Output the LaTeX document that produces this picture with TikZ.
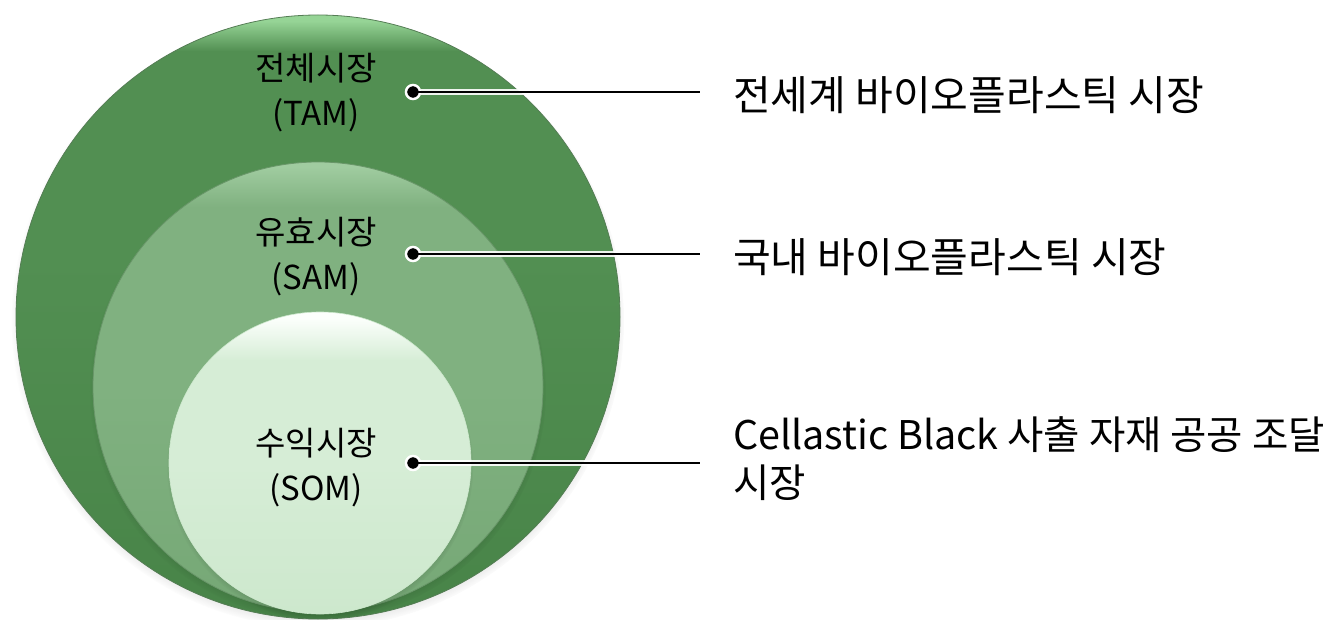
\documentclass[tikz,border=0pt]{standalone}
\usepackage{fontspec}
\setmainfont{Noto Sans CJK KR}
\usetikzlibrary{shadows,fadings}
\definecolor{oDark}{RGB}{72,132,72}
\definecolor{oMain}{RGB}{82,143,82}
\definecolor{oLight}{RGB}{150,212,150}
\definecolor{oEdge}{RGB}{85,125,85}
\definecolor{mDark}{RGB}{118,168,118}
\definecolor{mMain}{RGB}{128,177,128}
\definecolor{mLight}{RGB}{160,204,160}
\definecolor{mEdge}{RGB}{105,150,105}
\definecolor{iDark}{RGB}{205,232,205}
\definecolor{iMain}{RGB}{214,237,214}
\definecolor{iLight}{RGB}{252,255,252}
\pgfdeclareverticalshading{outershade}{100bp}{color(0bp)=(oDark); color(25bp)=(oDark); color(55bp)=(oMain); color(72bp)=(oMain); color(74.5bp)=(oLight); color(75bp)=(oLight); color(100bp)=(oLight)}
\pgfdeclareverticalshading{middleshade}{100bp}{color(0bp)=(mDark); color(25bp)=(mDark); color(50bp)=(mMain); color(70bp)=(mMain); color(74.5bp)=(mLight); color(75bp)=(mLight); color(100bp)=(mLight)}
\pgfdeclareverticalshading{innershade}{100bp}{color(0bp)=(iDark); color(25bp)=(iDark); color(50bp)=(iMain); color(67bp)=(iMain); color(74bp)=(iLight); color(75bp)=(iLight); color(100bp)=(iLight)}
\tikzset{
  ring/.style={circle, inner sep=0pt, outer sep=0pt,
    circular drop shadow={shadow scale=1.015, shadow xshift=0pt, shadow yshift=-4pt, opacity=0.35, fill=black}},
  lbl/.style={align=center, font=\fontsize{33pt}{45pt}\selectfont, text=black, inner sep=0pt},
  desc/.style={anchor=west, align=left, font=\fontsize{41pt}{48pt}\selectfont, text=black, inner sep=0pt},
  dotmark/.style={circle, fill=black, draw=white, line width=2.5pt, minimum size=14pt, inner sep=0pt},
  glowline/.style={draw=white, line width=6pt, opacity=0.9},
  leadline/.style={draw=black, line width=2pt}
}
\begin{document}
\begin{tikzpicture}[x=1pt,y=-1pt]
\useasboundingbox (0,0) rectangle (1328,620);
% circles
\node[ring, minimum size=604pt, shading=outershade, draw=oEdge, line width=0.8pt] (tam) at (318,317) {};
\node[ring, minimum size=450pt, shading=middleshade, draw=mEdge, line width=0.8pt] (sam) at (318,387) {};
\node[ring, minimum size=302pt, shading=innershade, draw=iDark, line width=0.6pt] (som) at (320,463) {};
% labels in circles
\node[lbl] (tamlbl) at (316,93) {전체시장\\(TAM)};
\node[lbl] (samlbl) at (316,257) {유효시장\\(SAM)};
\node[lbl] (somlbl) at (316,468) {수익시장\\(SOM)};
% leaders
\coordinate (e1) at (700,92);
\coordinate (e2) at (700,254);
\coordinate (e3) at (700,463);
\node[dotmark] (d1) at (413,92) {};
\node[dotmark] (d2) at (413,254) {};
\node[dotmark] (d3) at (413,463) {};
\draw[glowline] (d1.east) -- (e1);
\draw[glowline] (d2.east) -- (e2);
\draw[glowline] (d3.east) -- (e3);
\draw[leadline] (d1.center) -- (e1);
\draw[leadline] (d2.center) -- (e2);
\draw[leadline] (d3.center) -- (e3);
\node[circle, fill=black, minimum size=11pt, inner sep=0pt] (d1c) at (d1) {};
\node[circle, fill=black, minimum size=11pt, inner sep=0pt] (d2c) at (d2) {};
\node[circle, fill=black, minimum size=11pt, inner sep=0pt] (d3c) at (d3) {};
% descriptions
\node[desc] (t1) at (733,95) {전세계 바이오플라스틱 시장};
\node[desc] (t2) at (733,257) {국내 바이오플라스틱 시장};
\node[desc, font=\fontsize{39.5pt}{48pt}\selectfont] (t3) at (733,459) {Cellastic Black 사출 자재 공공 조달\\시장};
\end{tikzpicture}
\end{document}
